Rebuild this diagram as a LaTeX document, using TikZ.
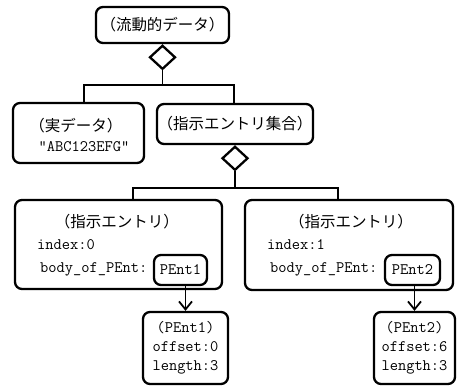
\documentclass[tikz,border=0pt]{standalone}
\usepackage{fontspec}
\newfontfamily\jp{Noto Sans CJK JP}
\usetikzlibrary{shapes.geometric,arrows.meta}
\begin{document}
\begin{tikzpicture}[x=1pt,y=-1pt,
  box/.style={draw,line width=2.3pt,rounded corners=7pt,inner sep=0pt},
  jtext/.style={font=\jp\fontsize{15.5pt}{19pt}\selectfont,inner sep=0pt},
  ttext/.style={font=\ttfamily\fontsize{16pt}{19pt}\selectfont,inner sep=0pt},
  agg/.style={draw,diamond,line width=2.3pt,fill=white,inner sep=0pt,minimum width=26pt,minimum height=24pt},
  conn/.style={line width=1.8pt},
  arr/.style={line width=1.8pt,-{Straight Barb[length=8pt,width=13pt,line width=1.8pt]}}]
\useasboundingbox (0,0) rectangle (459,386);
% top
\node[box,minimum width=133pt,minimum height=36pt,jtext] (top) at (162.5,25) {（流動的データ）};
\node[agg,anchor=north] (d1) at (top.south) {};
% level 2
\node[box,minimum width=131pt,minimum height=60pt] (c1) at (78.5,133) {};
\node[jtext] (c1t) at (76,126) {（実データ）};
\node[ttext] (c1v) at (84,147) {"ABC123EFG"};
\node[box,minimum width=156pt,minimum height=40pt,jtext] (c2) at (235,124) {（指示エントリ集合）};
\node[agg,anchor=north] (d2) at (c2.south) {};
\coordinate (j1) at (84,85);
\coordinate (j2) at (234,85);
\draw[conn] (d1.south) -- (d1.south |- j1);
\draw[conn] (j1 |- c1.north) -- (j1) -- (j2) -- (j2 |- c2.north);
% level 3
\node[box,minimum width=207pt,minimum height=89pt] (e1) at (118.5,244.5) {};
\node[box,minimum width=208pt,minimum height=90pt] (e2) at (349,245) {};
\coordinate (k1) at (133,188);
\coordinate (k2) at (338,188);
\draw[conn] (d2.south) -- (d2.south |- k1);
\draw[conn] (k1 |- e1.north) -- (k1) -- (k2) -- (k2 |- e2.north);
\node[jtext] (e1t) at (117,222) {（指示エントリ）};
\node[ttext,anchor=west] (e1i) at (37,245) {index:0};
\node[ttext,anchor=west] (e1b) at (40,269) {body\_of\_PEnt:};
\node[box,minimum width=53pt,minimum height=30pt,ttext] (p1) at (180.5,270) {PEnt1};
\node[jtext] (e2t) at (351,222) {（指示エントリ）};
\node[ttext,anchor=west] (e2i) at (267,245) {index:1};
\node[ttext,anchor=west] (e2b) at (270,269) {body\_of\_PEnt:};
\node[box,minimum width=55pt,minimum height=30pt,ttext] (p2) at (412.5,270) {PEnt2};
% level 4
\node[box,minimum width=85pt,minimum height=72pt,ttext,align=center] (b1) at (185.5,348) {(PEnt1)\\offset:0\\length:3};
\node[box,minimum width=81pt,minimum height=72pt,ttext,align=center] (b2) at (414.5,348) {(PEnt2)\\offset:6\\length:3};
\draw[arr] (b1.north |- p1.south) -- (b1.north);
\draw[arr] (b2.north |- p2.south) -- (b2.north);
\end{tikzpicture}
\end{document}
